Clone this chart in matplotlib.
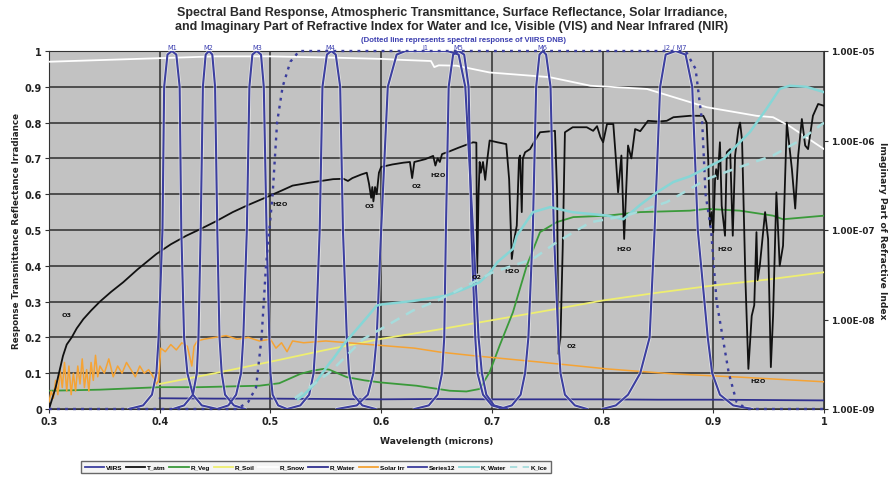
import matplotlib
matplotlib.use("Agg")
import matplotlib.pyplot as plt
from matplotlib.lines import Line2D
from matplotlib.ticker import FixedLocator, NullLocator

plt.rcParams['font.family'] = ['DejaVu Sans']

# ---------------- data ----------------
# VIIRS band relative spectral responses (wavelength in microns, response 0-1)
band_names = ["M1", "M2", "M3", "M4", "I1", "M5", "M6", "I2 / M7"]
band_label_x = [0.411, 0.444, 0.488, 0.554, 0.640, 0.670, 0.746, 0.866]

band_resp = [0.0, 0.01, 0.04, 0.1, 0.2, 0.5, 0.9, 0.99, 1.0, 0.99, 0.9, 0.5, 0.2, 0.1, 0.04, 0.01, 0.0]
m1_wl = [0.372, 0.385, 0.393, 0.397, 0.399, 0.4025, 0.404, 0.407, 0.411, 0.415, 0.418, 0.4195, 0.422, 0.425, 0.430, 0.438, 0.452]
m2_wl = [0.412, 0.422, 0.430, 0.4335, 0.435, 0.437, 0.439, 0.4415, 0.4445, 0.4475, 0.450, 0.452, 0.454, 0.456, 0.459, 0.467, 0.477]
m3_wl = [0.452, 0.462, 0.469, 0.4735, 0.4755, 0.4787, 0.481, 0.4837, 0.4876, 0.4915, 0.494, 0.4965, 0.499, 0.500, 0.502, 0.507, 0.515]
m4_wl = [0.515, 0.527, 0.535, 0.539, 0.541, 0.5445, 0.547, 0.551, 0.555, 0.559, 0.563, 0.5655, 0.569, 0.571, 0.575, 0.583, 0.595]
m5_wl = [0.630, 0.643, 0.651, 0.655, 0.657, 0.6585, 0.661, 0.665, 0.670, 0.675, 0.679, 0.6815, 0.685, 0.687, 0.692, 0.700, 0.712]
m6_wl = [0.707, 0.718, 0.726, 0.730, 0.733, 0.737, 0.740, 0.743, 0.746, 0.749, 0.753, 0.756, 0.760, 0.762, 0.766, 0.775, 0.786]
m7_wl = [0.800, 0.812, 0.823, 0.834, 0.8425, 0.847, 0.852, 0.857, 0.866, 0.875, 0.881, 0.886, 0.895, 0.899, 0.906, 0.918, 0.935]

i1_resp = [0.0, 0.01, 0.04, 0.1, 0.2, 0.5, 0.9, 0.99, 1.0, 1.0, 0.99, 0.9, 0.5, 0.2, 0.1, 0.04, 0.01, 0.0]
i1_wl = [0.560, 0.578, 0.588, 0.593, 0.596, 0.600, 0.606, 0.614, 0.622, 0.660, 0.670, 0.676, 0.683, 0.688, 0.691, 0.695, 0.702, 0.714]

# Day/Night Band (dotted)
dnb_wl = [0.300, 0.470, 0.480, 0.487, 0.492, 0.496, 0.499, 0.502, 0.506, 0.511, 0.518, 0.526,
          0.875, 0.884, 0.890, 0.893, 0.898, 0.903, 0.914, 0.921, 0.930, 1.000]
dnb_resp = [0.0, 0.0, 0.02, 0.06, 0.2, 0.4, 0.5, 0.6, 0.8, 0.9, 0.97, 1.0,
            1.0, 0.95, 0.8, 0.6, 0.5, 0.3, 0.1, 0.02, 0.0, 0.0]

# Atmospheric transmittance
tatm_wl = [0.300, 0.303, 0.306, 0.309, 0.3126, 0.316, 0.3205, 0.325, 0.331, 0.338, 0.346, 0.356,
           0.367, 0.380, 0.397, 0.410, 0.424, 0.437, 0.450, 0.466, 0.480, 0.4997, 0.510, 0.520,
           0.535, 0.5566, 0.566, 0.570, 0.574, 0.582, 0.587, 0.589, 0.591, 0.592, 0.593, 0.5945,
           0.596, 0.598, 0.600, 0.610, 0.620, 0.626, 0.628, 0.630, 0.640, 0.647, 0.649, 0.651,
           0.653, 0.655, 0.662, 0.670, 0.683, 0.686, 0.6867, 0.688, 0.689, 0.690, 0.692, 0.694,
           0.696, 0.698, 0.705, 0.713, 0.7156, 0.718, 0.720, 0.7225, 0.7245, 0.7255, 0.727, 0.728,
           0.730, 0.7345, 0.739, 0.7435, 0.757, 0.759, 0.760, 0.762, 0.764, 0.766, 0.773, 0.7857,
           0.7915, 0.795, 0.798, 0.8005, 0.804, 0.8097, 0.812, 0.814, 0.817, 0.8195, 0.823, 0.826,
           0.8294, 0.834, 0.841, 0.850, 0.858, 0.864, 0.879, 0.891, 0.894, 0.8955, 0.897, 0.8986,
           0.900, 0.9016, 0.9026, 0.904, 0.906, 0.9076, 0.9106, 0.9122, 0.9152, 0.9176, 0.9197, 0.9227,
           0.9242, 0.926, 0.929, 0.9317, 0.9347, 0.937, 0.939, 0.940, 0.942, 0.9468, 0.9495, 0.952,
           0.954, 0.957, 0.960, 0.963, 0.9664, 0.971, 0.974, 0.9767, 0.980, 0.983, 0.9856, 0.990,
           0.9947, 1.000]
tatm_val = [0.000, 0.030, 0.060, 0.100, 0.148, 0.180, 0.200, 0.225, 0.251, 0.275, 0.300, 0.327,
            0.354, 0.390, 0.433, 0.460, 0.484, 0.503, 0.523, 0.550, 0.570, 0.596, 0.610, 0.624,
            0.632, 0.642, 0.643, 0.637, 0.645, 0.655, 0.660, 0.630, 0.590, 0.620, 0.580, 0.620,
            0.600, 0.660, 0.676, 0.683, 0.688, 0.690, 0.645, 0.690, 0.698, 0.707, 0.680, 0.700,
            0.690, 0.712, 0.720, 0.730, 0.745, 0.744, 0.380, 0.600, 0.690, 0.660, 0.690, 0.640,
            0.700, 0.750, 0.745, 0.740, 0.642, 0.419, 0.470, 0.512, 0.700, 0.708, 0.550, 0.700,
            0.717, 0.726, 0.750, 0.773, 0.777, 0.600, 0.154, 0.200, 0.450, 0.773, 0.787, 0.787,
            0.777, 0.790, 0.760, 0.745, 0.796, 0.796, 0.700, 0.605, 0.708, 0.475, 0.736, 0.700,
            0.782, 0.776, 0.805, 0.803, 0.805, 0.815, 0.819, 0.819, 0.800, 0.690, 0.512, 0.550,
            0.494, 0.642, 0.670, 0.642, 0.745, 0.568, 0.484, 0.717, 0.726, 0.484, 0.708, 0.782,
            0.800, 0.750, 0.363, 0.112, 0.260, 0.290, 0.494, 0.360, 0.400, 0.550, 0.475, 0.117,
            0.260, 0.605, 0.400, 0.456, 0.800, 0.670, 0.560, 0.708, 0.810, 0.736, 0.726, 0.819,
            0.852, 0.847]

# Absorption feature labels on the transmittance curve
gas_labels = ["O3", "H2O", "O3", "O2", "H2O", "O2", "H2O", "H2O", "O2", "H2O", "H2O"]
gas_x = [0.316, 0.509, 0.590, 0.632, 0.651, 0.686, 0.718, 0.819, 0.772, 0.911, 0.940]
gas_y = [0.265, 0.573, 0.568, 0.624, 0.656, 0.369, 0.388, 0.447, 0.177, 0.447, 0.080]

# Vegetation reflectance
veg_wl = [0.300, 0.346, 0.400, 0.436, 0.490, 0.508, 0.527, 0.538, 0.548, 0.553, 0.569, 0.585,
          0.600, 0.632, 0.662, 0.677, 0.689, 0.698, 0.707, 0.719, 0.7315, 0.7435, 0.7586, 0.7735,
          0.804, 0.834, 0.879, 0.894, 0.924, 0.954, 0.963, 1.000]
veg_val = [0.051, 0.054, 0.061, 0.061, 0.065, 0.072, 0.098, 0.107, 0.112, 0.110, 0.089, 0.080,
           0.074, 0.065, 0.051, 0.049, 0.056, 0.103, 0.177, 0.270, 0.400, 0.494, 0.522, 0.536,
           0.540, 0.550, 0.554, 0.559, 0.554, 0.540, 0.530, 0.540]

# Soil reflectance
soil_wl = [0.400, 0.450, 0.500, 0.550, 0.600, 0.650, 0.700, 0.750, 0.800, 0.850, 0.900, 0.950, 1.000]
soil_val = [0.070, 0.100, 0.132, 0.165, 0.196, 0.221, 0.248, 0.275, 0.303, 0.325, 0.345, 0.362, 0.382]

# Snow reflectance
snow_wl = [0.300, 0.350, 0.400, 0.450, 0.500, 0.550, 0.600, 0.620, 0.645, 0.648, 0.652, 0.668,
           0.698, 0.752, 0.789, 0.840, 0.894, 0.939, 0.954, 0.969, 1.000]
snow_val = [0.970, 0.975, 0.980, 0.985, 0.985, 0.982, 0.978, 0.975, 0.972, 0.955, 0.960, 0.959,
            0.940, 0.927, 0.903, 0.894, 0.843, 0.819, 0.815, 0.790, 0.726]

# Water reflectance
water_wl = [0.400, 0.450, 0.500, 0.550, 0.600, 0.650, 0.700, 0.750, 0.800, 0.850, 0.900, 0.950, 1.000]
water_val = [0.030, 0.029, 0.029, 0.028, 0.027, 0.028, 0.027, 0.027, 0.027, 0.026, 0.026, 0.025, 0.024]

# Solar irradiance (scaled)
solar_wl = [0.300, 0.302, 0.304, 0.306, 0.308, 0.310, 0.312, 0.314, 0.316, 0.318, 0.320, 0.322,
            0.324, 0.326, 0.328, 0.330, 0.332, 0.334, 0.336, 0.338, 0.340, 0.342, 0.344, 0.346,
            0.350, 0.354, 0.358, 0.362, 0.366, 0.370, 0.374, 0.378, 0.382, 0.386, 0.390, 0.394,
            0.397, 0.399, 0.401, 0.405, 0.410, 0.415, 0.420, 0.425, 0.429, 0.431, 0.434, 0.440,
            0.450, 0.460, 0.470, 0.480, 0.490, 0.500, 0.505, 0.510, 0.515, 0.520, 0.530, 0.550,
            0.570, 0.590, 0.610, 0.630, 0.653, 0.683, 0.7435, 0.804, 0.864, 0.924, 1.000]
solar_val = [0.020, 0.050, 0.030, 0.080, 0.040, 0.110, 0.060, 0.130, 0.050, 0.120, 0.040, 0.100,
             0.050, 0.120, 0.070, 0.140, 0.060, 0.110, 0.050, 0.130, 0.080, 0.150, 0.090, 0.120,
             0.100, 0.140, 0.090, 0.120, 0.100, 0.130, 0.110, 0.090, 0.120, 0.100, 0.110, 0.090,
             0.070, 0.080, 0.170, 0.160, 0.180, 0.165, 0.185, 0.175, 0.120, 0.175, 0.190, 0.195,
             0.200, 0.205, 0.195, 0.200, 0.190, 0.195, 0.170, 0.185, 0.160, 0.190, 0.185, 0.190,
             0.185, 0.180, 0.175, 0.170, 0.159, 0.149, 0.131, 0.112, 0.098, 0.089, 0.076]

# Imaginary part of refractive index
kw_wl = [0.525, 0.5295, 0.540, 0.5538, 0.5566, 0.566, 0.578, 0.587, 0.596, 0.600, 0.6288, 0.659,
         0.675, 0.689, 0.698, 0.705, 0.719, 0.7225, 0.737, 0.7525, 0.773, 0.804, 0.8187, 0.834,
         0.849, 0.864, 0.879, 0.909, 0.933, 0.948, 0.960, 0.969, 0.984, 1.000]
kw_val = [1.29e-9, 1.41e-9, 1.91e-9, 3.31e-9, 3.63e-9, 5.25e-9, 7.8e-9, 1.05e-8, 1.43e-8, 1.47e-8,
          1.61e-8, 1.85e-8, 2.19e-8, 2.61e-8, 3.31e-8, 4.37e-8, 6.14e-8, 8.63e-8, 1.58e-7, 1.80e-7,
          1.58e-7, 1.45e-7, 1.32e-7, 1.91e-7, 2.63e-7, 3.44e-7, 3.98e-7, 6.19e-7, 1.24e-6, 2.25e-6,
          3.77e-6, 4.09e-6, 3.98e-6, 3.47e-6]
ki_wl = [0.522, 0.5538, 0.5837, 0.6288, 0.650, 0.701, 0.737, 0.7586, 0.789, 0.8218, 0.858, 0.879,
         0.894, 0.924, 0.954, 0.978, 1.000]
ki_val = [1.32e-9, 2.58e-9, 6.03e-9, 1.26e-8, 1.61e-8, 3.37e-8, 4.74e-8, 7.31e-8, 1.22e-7, 1.45e-7,
          2.05e-7, 2.88e-7, 3.70e-7, 5.06e-7, 6.79e-7, 1.0e-6, 1.58e-6]

x_ticks = [0.3, 0.4, 0.5, 0.6, 0.7, 0.8, 0.9, 1.0]
x_tick_labels = ["0.3", "0.4", "0.5", "0.6", "0.7", "0.8", "0.9", "1"]
y_ticks = [0, 0.1, 0.2, 0.3, 0.4, 0.5, 0.6, 0.7, 0.8, 0.9, 1.0]
y_tick_labels = ["0", "0.1", "0.2", "0.3", "0.4", "0.5", "0.6", "0.7", "0.8", "0.9", "1"]
k_ticks = [1e-9, 1e-8, 1e-7, 1e-6, 1e-5]
k_tick_labels = ["1.00E-09", "1.00E-08", "1.00E-07", "1.00E-06", "1.00E-05"]

# ---------------- styles ----------------
C_BAND = "#3c3f9f"
C_TATM = "#111111"
C_VEG = "#3a9a3a"
C_SOIL = "#eeee70"
C_SNOW = "#ffffff"
C_WATER = "#303090"
C_SOLAR = "#f5a334"
C_DNB = "#3a3d9c"
C_KW = "#86d6d6"
C_KI = "#a6dcdc"
BG = "#c2c2c2"

fig = plt.figure(figsize=(8.91, 4.81), dpi=100)
ax = fig.add_axes([49 / 891, 1 - 410 / 481, 775 / 891, 358 / 481])
ax.set_facecolor(BG)
ax.set_xlim(0.3, 1.0)
ax.set_ylim(0, 1)
ax.set_xticks(x_ticks)
ax.set_xticklabels(x_tick_labels)
ax.set_yticks(y_ticks)
ax.set_yticklabels(y_tick_labels)
ax.grid(True, color="#2e2e2e", linewidth=1.1)
ax.set_axisbelow(True)
for s in ax.spines.values():
    s.set_color("#333333")
    s.set_linewidth(0.8)
ax.tick_params(labelsize=7.0, length=3, width=0.8, color="#333333", pad=2)
for lab in ax.get_xticklabels() + ax.get_yticklabels():
    lab.set_fontweight("bold")
    lab.set_color("#222222")

# surfaces and irradiance
ax.plot(soil_wl, soil_val, color=C_SOIL, lw=1.3, label="R_Soil", zorder=3)
ax.plot(veg_wl, veg_val, color=C_VEG, lw=1.3, label="R_Veg", zorder=3)
ax.plot(snow_wl, snow_val, color=C_SNOW, lw=1.3, label="R_Snow", zorder=3)
ax.plot(solar_wl, solar_val, color=C_SOLAR, lw=1.1, label="Solar Irr", zorder=3)
ax.plot(water_wl, water_val, color=C_WATER, lw=1.3, label="R_Water", zorder=3)

# atmosphere
ax.plot(tatm_wl, tatm_val, color=C_TATM, lw=1.3, label="T_atm", zorder=4)
for t, gx, gy in zip(gas_labels, gas_x, gas_y):
    ax.text(gx, gy, t, fontsize=4.6, fontweight="bold", color="#111111",
            ha="center", va="center", zorder=6)

# VIIRS bands
band_curves = [(m1_wl, band_resp), (m2_wl, band_resp), (m3_wl, band_resp), (m4_wl, band_resp),
               (i1_wl, i1_resp), (m5_wl, band_resp), (m6_wl, band_resp), (m7_wl, band_resp)]
for k, (wl, rr) in enumerate(band_curves):
    ax.plot(wl, rr, color="white", lw=2.6, alpha=0.55, zorder=4.5, solid_capstyle="round")
    ax.plot(wl, rr, color=C_BAND, lw=1.5, zorder=5, label="VIIRS" if k == 0 else None)
ax.plot(dnb_wl, dnb_resp, color=C_DNB, lw=1.7, ls=(0, (1.2, 2.2)), zorder=5, label="Series12",
        clip_on=False)

for name, bx in zip(band_names, band_label_x):
    ax.text(bx, 1.004, name, fontsize=4.8, color="#3c3fb0", ha="center", va="bottom",
            transform=ax.transData, clip_on=False)

# refractive index axis
ax2 = ax.twinx()
ax2.set_yscale("log")
ax2.set_ylim(1e-9, 1e-5)
ax2.yaxis.set_major_locator(FixedLocator(k_ticks))
ax2.yaxis.set_minor_locator(NullLocator())
ax2.set_yticklabels(k_tick_labels)
ax2.tick_params(labelsize=6.4, length=3, width=0.8, color="#333333", pad=2)
for lab in ax2.get_yticklabels():
    lab.set_fontweight("bold")
    lab.set_color("#222222")
for s in ax2.spines.values():
    s.set_visible(False)
ax2.plot(kw_wl, kw_val, color=C_KW, lw=1.8, label="K_Water", zorder=3)
ax2.plot(ki_wl, ki_val, color=C_KI, lw=1.8, ls=(0, (4, 3)), label="K_Ice", zorder=3)

ax.set_xlabel("Wavelength (microns)", fontsize=6.6, fontweight="bold", labelpad=7,
              color="#222222")
ax.set_ylabel("Response Transmittance Reflectance Irradiance", fontsize=6.3, fontweight="bold",
              labelpad=3, color="#222222")
ax2.set_ylabel("Imaginary Part of Refractive Index", fontsize=6.6, fontweight="bold",
               rotation=270, labelpad=9, color="#222222")

fig.text(452 / 891, 1 - 20 / 481,
         "Spectral Band Response, Atmospheric Transmittance, Surface Reflectance, Solar Irradiance,\n"
         "and Imaginary Part of Refractive Index for Water and Ice, Visible (VIS) and Near Infrared (NIR)",
         ha="center", va="center", fontsize=9.0, fontweight="bold", color="#2a2a2a",
         linespacing=1.25, family=["Liberation Sans", "DejaVu Sans"])
fig.text(464 / 891, 1 - 40 / 481, "(Dotted line represents spectral response of VIIRS DNB)",
         ha="center", va="center", fontsize=5.6, fontweight="bold", color="#3c3fb0",
         family=["Liberation Sans", "DejaVu Sans"])

# legend row
handles = [
    Line2D([], [], color=C_BAND, lw=1.3),
    Line2D([], [], color=C_TATM, lw=1.3),
    Line2D([], [], color=C_VEG, lw=1.3),
    Line2D([], [], color=C_SOIL, lw=1.3),
    Line2D([], [], color=C_SNOW, lw=1.3),
    Line2D([], [], color=C_WATER, lw=1.3),
    Line2D([], [], color=C_SOLAR, lw=1.3),
    Line2D([], [], color=C_DNB, lw=1.3),
    Line2D([], [], color=C_KW, lw=1.3),
    Line2D([], [], color=C_KI, lw=1.3, ls=(0, (4, 3))),
]
labels = ["VIIRS", "T_atm", "R_Veg", "R_Soil", "R_Snow", "R_Water", "Solar Irr", "Series12",
          "K_Water", "K_Ice"]
leg = fig.legend(handles, labels, loc="center", bbox_to_anchor=(316 / 891, 1 - 468 / 481),
                 ncol=10, fontsize=4.4, frameon=True, fancybox=False, handlelength=3.0,
                 handletextpad=0.3, columnspacing=0.6, borderpad=0.5,
                 prop={"family": ["Liberation Sans", "DejaVu Sans"], "weight": "bold", "size": 4.6})
leg.get_frame().set_edgecolor("#444444")
leg.get_frame().set_facecolor("#f2f2f2")
leg.get_frame().set_linewidth(1.0)

fig.savefig("out.png", dpi=100)
